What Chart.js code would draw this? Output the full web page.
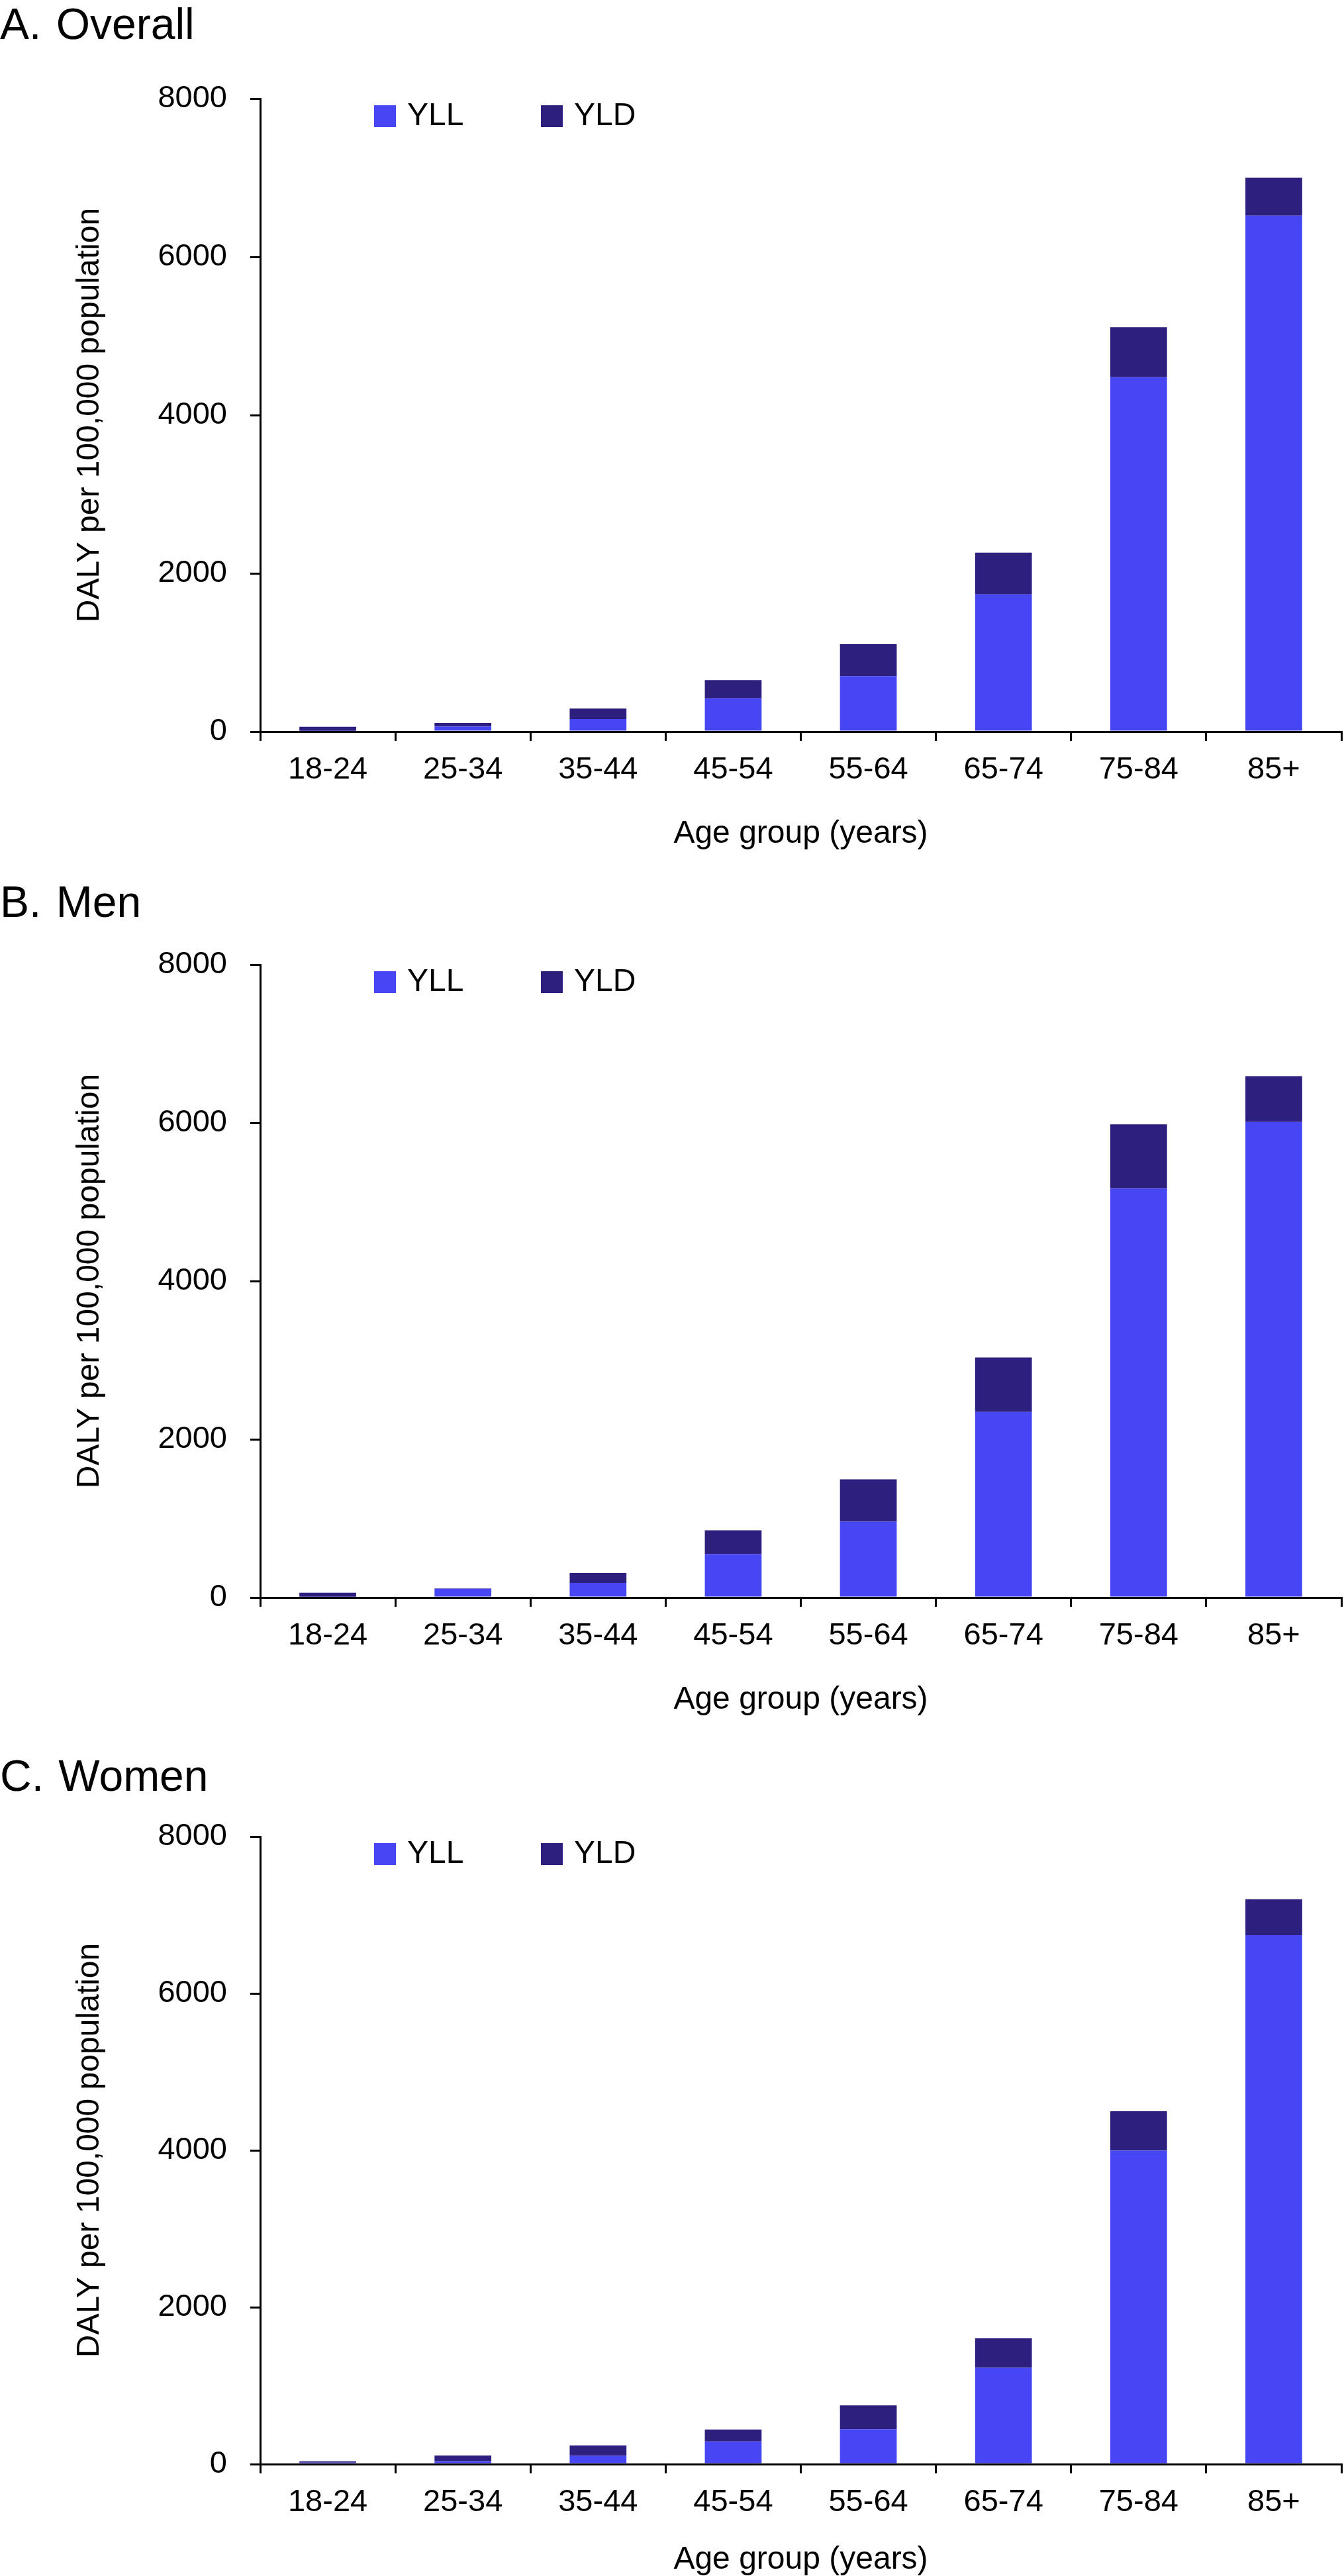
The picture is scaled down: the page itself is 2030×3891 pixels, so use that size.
<!DOCTYPE html>
<html>
<head>
<meta charset="utf-8">
<script src="https://cdn.jsdelivr.net/npm/chart.js@4.4.0/dist/chart.umd.min.js"></script>
<style>
  body { margin: 0; background: #fff; }
  #page { position: relative; width: 2030px; height: 3891px; background: #fff; }
  .panel { position: absolute; left: 0; }
  .ttl { position: absolute; left: 0; font-family: "Liberation Sans", Arial, sans-serif;
         font-size: 66px; line-height: 66px; color: #000; word-spacing: 4px; white-space: pre; }
</style>
</head>
<body>
<div id="page">
  <div class="ttl" style="top:3px">A. Overall</div>
  <div class="ttl" style="top:1329px">B. Men</div>
  <div class="ttl" style="top:2649px">C. Women</div>
  <canvas class="panel" id="chartA" width="2030" height="1300" style="top:0px"></canvas>
  <canvas class="panel" id="chartB" width="2030" height="1300" style="top:1308px"></canvas>
  <canvas class="panel" id="chartC" width="2030" height="1266" style="top:2625px"></canvas>
</div>
<script>
// age groups on the x axis
var ageGroups = ['18-24', '25-34', '35-44', '45-54', '55-64', '65-74', '75-84', '85+'];

// A. Overall
var overallYLL = [10, 64, 160, 420, 700, 1735, 4480, 6520];
var overallYLD = [50, 45, 130, 230, 405, 527, 630, 480];

// B. Men
var menYLL = [10, 110, 185, 548, 958, 2346, 5170, 6010];
var menYLD = [50, 5, 125, 302, 535, 687, 812, 580];

// C. Women
var womenYLL = [20, 37, 108, 290, 445, 1227, 3996, 6743];
var womenYLD = [15, 73, 130, 150, 305, 377, 502, 457];

var yMax = 8000;
var yStep = 2000;

var FONT = '"Liberation Sans", Arial, sans-serif';
var colYLL = '#4646f5';
var colYLD = '#2c1f7e';

// legend drawn inside the plot area, near the top
var insideLegend = {
    id: 'insideLegend',
    afterDraw: function (chart) {
        var ctx = chart.ctx;
        var area = chart.chartArea;
        ctx.save();
        ctx.font = '48px ' + FONT;
        ctx.textBaseline = 'middle';
        ctx.textAlign = 'left';
        chart.data.datasets.forEach(function (ds, i) {
            var x = area.left + 172 + i * 252;
            var y = area.top + 10;
            ctx.fillStyle = ds.backgroundColor;
            ctx.fillRect(x, y, 33, 33);
            ctx.fillStyle = '#000';
            ctx.fillText(ds.label, x + 50, y + 17);
        });
        ctx.restore();
    }
};

function makeChart(id, yll, yld, cfg) {
    return new Chart(document.getElementById(id), {
        type: 'bar',
        data: {
            labels: ageGroups,
            datasets: [{
                label: 'YLL',
                data: yll,
                backgroundColor: colYLL,
                borderWidth: 0,
                barPercentage: 0.42,
                categoryPercentage: 1.0
            }, {
                label: 'YLD',
                data: yld,
                backgroundColor: colYLD,
                borderWidth: 0,
                barPercentage: 0.42,
                categoryPercentage: 1.0
            }]
        },
        options: {
            responsive: false,
            animation: false,
            devicePixelRatio: 1,
            layout: {
                padding: { top: 149, left: 80, right: 4, bottom: cfg.bottomPad }
            },
            plugins: {
                legend: { display: false },
                tooltip: { enabled: false }
            },
            scales: {
                x: {
                    stacked: true,
                    afterFit: function (scale) { scale.height = cfg.xHeight; },
                    grid: {
                        display: true,
                        offset: true,
                        drawOnChartArea: false,
                        drawTicks: true,
                        tickLength: 14,
                        color: '#000',
                        lineWidth: 3
                    },
                    border: { display: true, color: '#000', width: 3 },
                    ticks: {
                        color: '#000',
                        padding: 16,
                        maxRotation: 0,
                        font: { family: FONT, size: 47 }
                    },
                    title: {
                        display: true,
                        text: 'Age group (years)',
                        color: '#000',
                        padding: { top: 0, bottom: 0 },
                        font: { family: FONT, size: 48, lineHeight: 1 }
                    }
                },
                y: {
                    stacked: true,
                    min: 0,
                    max: yMax,
                    afterFit: function (scale) { scale.width = 313; },
                    grid: {
                        display: true,
                        drawOnChartArea: false,
                        drawTicks: true,
                        tickLength: 15,
                        color: '#000',
                        lineWidth: 3
                    },
                    border: { display: true, color: '#000', width: 3 },
                    ticks: {
                        stepSize: yStep,
                        color: '#000',
                        padding: 35,
                        font: { family: FONT, size: 47 },
                        callback: function (v) { return String(v); }
                    },
                    title: {
                        display: true,
                        text: 'DALY per 100,000 population',
                        color: '#000',
                        padding: { top: 32, bottom: 0 },
                        font: { family: FONT, size: 48, lineHeight: 1 }
                    }
                }
            }
        },
        plugins: [insideLegend]
    });
}

makeChart('chartA', overallYLL, overallYLD, { bottomPad: 16, xHeight: 179 });
makeChart('chartB', menYLL, menYLD, { bottomPad: 16, xHeight: 179 });
makeChart('chartC', womenYLL, womenYLD, { bottomPad: 0, xHeight: 169 });
</script>
</body>
</html>
